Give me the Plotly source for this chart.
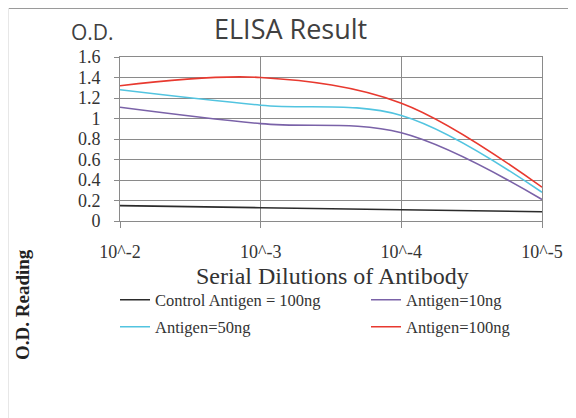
import plotly.graph_objects as go

# ---- data ----
x_labels = ["10^-2", "10^-3", "10^-4", "10^-5"]
x_pos = [0, 1, 2, 3]
series_names = ["Control Antigen = 100ng", "Antigen=10ng", "Antigen=50ng", "Antigen=100ng"]
control_100 = [0.15, 0.13, 0.11, 0.09]
antigen_10 = [1.11, 0.95, 0.86, 0.21]
antigen_50 = [1.28, 1.13, 1.03, 0.28]
antigen_100 = [1.32, 1.40, 1.15, 0.33]
y_ticks = [0, 0.2, 0.4, 0.6, 0.8, 1.0, 1.2, 1.4, 1.6]
y_tick_text = ["0", "0.2", "0.4", "0.6", "0.8", "1", "1.2", "1.4", "1.6"]

colors = ["#2b2b2b", "#7a62a8", "#52c4e0", "#e8392f"]
values = [control_100, antigen_10, antigen_50, antigen_100]
legend_ids = ["legend", "legend2", "legend3", "legend4"]

W, H = 576, 418
OFF = 8  # page body margin offset of the figure in the screenshot
# plot area in screenshot pixels
SL, SR, ST, SB = 120, 542, 57, 221
L, R, T, B = SL - OFF, SR - OFF, ST - OFF, SB - OFF

fig = go.Figure()
for name, vals, col, lg in zip(series_names, values, colors, legend_ids):
    fig.add_trace(go.Scatter(
        x=x_pos, y=vals, name=name, mode="lines",
        line=dict(color=col, width=1.6, shape="spline", smoothing=1.0),
        legend=lg,
    ))

def sx(x):
    return (x - OFF - L) / (R - L)

def sy(y):
    return (B - (y - OFF)) / (B - T)

grid = "#8a8a8a"
serif = "Liberation Serif"

def leg(x, y):
    return dict(
        x=sx(x), y=sy(y), orientation="h", xanchor="left", yanchor="middle",
        font=dict(family=serif, size=16.5, color="#333333"),
        bgcolor="rgba(0,0,0,0)", borderwidth=0, itemclick=False,
    )

fig.update_layout(
    width=W, height=H,
    margin=dict(l=L, r=W - R, t=T, b=H - B, pad=0),
    paper_bgcolor="white", plot_bgcolor="white",
    showlegend=True,
    legend=leg(115, 300),
    legend2=leg(366, 300),
    legend3=leg(115, 327),
    legend4=leg(366, 327),
    xaxis=dict(
        range=[0, 3], tickvals=x_pos, ticktext=x_labels,
        showgrid=True, gridcolor=grid, gridwidth=1,
        showline=True, linecolor=grid, linewidth=1, mirror=True,
        ticks="outside", ticklen=6, tickcolor=grid, tickwidth=1,
        tickfont=dict(family=serif, size=18, color="#333333"),
        ticklabelstandoff=8, zeroline=False, fixedrange=True,
    ),
    yaxis=dict(
        range=[0, 1.6], tickvals=y_ticks, ticktext=y_tick_text,
        showgrid=True, gridcolor=grid, gridwidth=1,
        showline=True, linecolor=grid, linewidth=1, mirror=True,
        ticks="outside", ticklen=5, tickcolor=grid, tickwidth=1,
        tickfont=dict(family=serif, size=18, color="#333333"),
        ticklabelstandoff=10, zeroline=False, fixedrange=True,
    ),
    annotations=[
        dict(text="ELISA Result", x=sx(290), y=sy(28), xref="paper", yref="paper",
             showarrow=False, xanchor="center", yanchor="middle",
             font=dict(family="Open Sans", size=27, color="#404040")),
        dict(text="O.D.", x=sx(92), y=sy(32), xref="paper", yref="paper",
             showarrow=False, xanchor="center", yanchor="middle",
             font=dict(family="Open Sans", size=21, color="#404040")),
        dict(text="Serial Dilutions of Antibody", x=sx(332), y=sy(276), xref="paper", yref="paper",
             showarrow=False, xanchor="center", yanchor="middle",
             font=dict(family=serif, size=24, color="#333333")),
        dict(text="<b>O.D. Reading</b>", x=sx(22), y=sy(305), xref="paper", yref="paper",
             showarrow=False, xanchor="center", yanchor="middle", textangle=-90,
             font=dict(family=serif, size=19, color="#222222")),
    ],
    shapes=[
        dict(type="line", xref="paper", yref="paper", x0=sx(7), x1=sx(7), y0=sy(430), y1=sy(8),
             line=dict(color="#cfcfcf", width=3)),
        dict(type="line", xref="paper", yref="paper", x0=sx(9), x1=sx(590), y0=sy(8.5), y1=sy(8.5),
             line=dict(color="#9a9a9a", width=1)),
    ],
)

fig.write_html("out.html")
